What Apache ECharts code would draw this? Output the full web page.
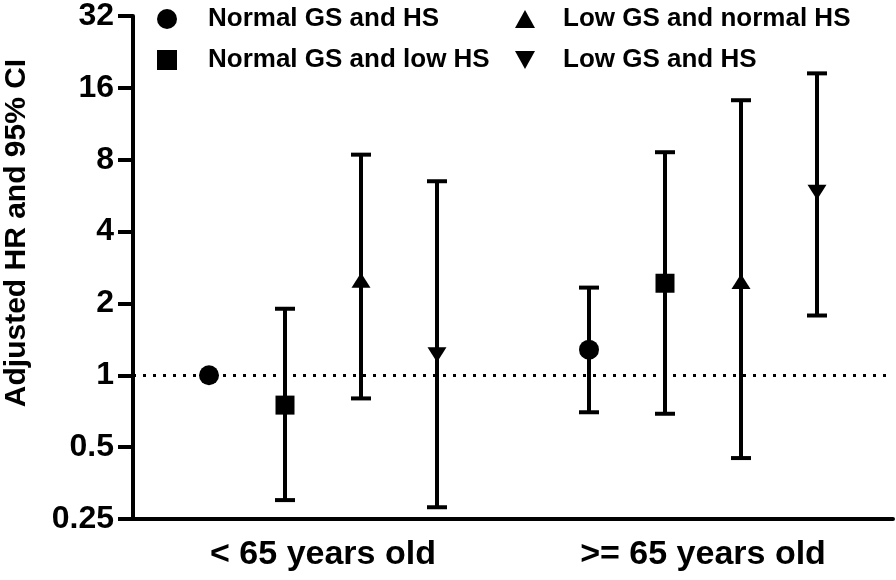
<!DOCTYPE html>
<html>
<head>
<meta charset="utf-8">
<script src="https://cdn.jsdelivr.net/npm/echarts@6/dist/echarts.min.js"></script>
<style>html,body{margin:0;padding:0;background:#fff}#c{width:896px;height:580px}</style>
</head>
<body>
<div id="c"></div>
<script>
// ---- data ----
const categories = ['< 65 years old', '>= 65 years old'];
const seriesNames = ['Normal GS and HS', 'Normal GS and low HS', 'Low GS and normal HS', 'Low GS and HS'];
const yTickLabels = ['0.25', '0.5', '1', '2', '4', '8', '16', '32'];
// hazard ratios per category
const hrNormalGSHS     = [1.00, 1.28];
const loNormalGSHS     = [null, 0.70];
const hiNormalGSHS     = [null, 2.33];
const hrNormalGSLowHS  = [0.75, 2.43];
const loNormalGSLowHS  = [0.30, 0.69];
const hiNormalGSLowHS  = [1.90, 8.60];
const hrLowGSNormalHS  = [2.50, 2.47];
const loLowGSNormalHS  = [0.80, 0.45];
const hiLowGSNormalHS  = [8.40, 14.2];
const hrLowGSHS        = [1.22, 5.84];
const loLowGSHS        = [0.28, 1.78];
const hiLowGSHS        = [6.50, 18.4];
const referenceHR = 1;

// ---- layout/style ----
const hrs = [hrNormalGSHS, hrNormalGSLowHS, hrLowGSNormalHS, hrLowGSHS];
const los = [loNormalGSHS, loNormalGSLowHS, loLowGSNormalHS, loLowGSHS];
const his = [hiNormalGSHS, hiNormalGSLowHS, hiLowGSNormalHS, hiLowGSHS];
const offsets = [-0.3, -0.1, 0.1, 0.3];
const triUp = 'path://M0,15 L9.5,0 L19,15 Z';
const triDown = 'path://M0,0 L19,0 L9.5,15 Z';
const symbols = ['circle', 'rect', triUp, triDown];
const symbolSizes = [20, 19, [19, 15], [19, 15]];
const legendIcons = ['circle', 'path://M0,0 L18,0 L18,18 L0,18 Z', 'path://M0,17 L9.5,0 L19,17 Z', 'path://M0,0 L19,0 L9.5,17 Z'];
const FONT = '"Liberation Sans", Arial, sans-serif';

const series = [];
seriesNames.forEach((name, s) => {
  const xs = categories.map((c, i) => i + 0.5 + offsets[s]);
  series.push({
    name: name + ' CI',
    type: 'custom',
    xAxisIndex: 1,
    z: 3,
    silent: true,
    data: xs.map((x, i) => [x, los[s][i], his[s][i]]).filter(d => d[1] != null),
    encode: {x: 0, y: [1, 2]},
    renderItem: function (params, api) {
      const x = api.value(0);
      const p1 = api.coord([x, api.value(1)]);
      const p2 = api.coord([x, api.value(2)]);
      const hw = 10;
      const st = {stroke: '#000', lineWidth: 4};
      return {
        type: 'group',
        children: [
          {type: 'line', shape: {x1: p1[0], y1: p1[1], x2: p2[0], y2: p2[1]}, style: st},
          {type: 'line', shape: {x1: p1[0] - hw, y1: p1[1], x2: p1[0] + hw, y2: p1[1]}, style: st},
          {type: 'line', shape: {x1: p2[0] - hw, y1: p2[1], x2: p2[0] + hw, y2: p2[1]}, style: st}
        ]
      };
    }
  });
  const sc = {
    name: name,
    type: 'scatter',
    xAxisIndex: 1,
    z: 4,
    symbol: symbols[s],
    symbolSize: symbolSizes[s],
    itemStyle: {color: '#000', opacity: 1},
    data: xs.map((x, i) => [x, hrs[s][i]])
  };
  if (s === 0) {
    sc.markLine = {
      silent: true,
      symbol: 'none',
      label: {show: false},
      z: 1,
      lineStyle: {color: '#000', type: [3, 7], width: 3},
      data: [{yAxis: referenceHR}]
    };
  }
  series.push(sc);
});

const legendBase = {fontFamily: FONT, fontWeight: 'bold', fontSize: 26, color: '#000'};
const chart = echarts.init(document.getElementById('c'));
chart.setOption({
  animation: false,
  backgroundColor: '#fff',
  grid: {left: 133, right: 3, top: 13, bottom: 61, containLabel: false},
  legend: [
    {
      left: 157, top: 6, orient: 'vertical', itemWidth: 20, itemHeight: 20, itemGap: 15,
      selectedMode: false, padding: 0,
      textStyle: Object.assign({padding: [0, 0, 0, 26]}, legendBase),
      data: [0, 1].map(s => ({name: seriesNames[s], icon: legendIcons[s]}))
    },
    {
      left: 515, top: 6, orient: 'vertical', itemWidth: 20, itemHeight: 20, itemGap: 15,
      selectedMode: false, padding: 0,
      textStyle: Object.assign({padding: [0, 0, 0, 23]}, legendBase),
      data: [2, 3].map(s => ({name: seriesNames[s], icon: legendIcons[s]}))
    }
  ],
  xAxis: [
    {
      type: 'category', data: categories, position: 'bottom',
      axisLine: {lineStyle: {color: '#000', width: 4}},
      axisTick: {alignWithLabel: true, length: 12, lineStyle: {color: '#000', width: 4}},
      axisLabel: {margin: 19, color: '#000', fontFamily: FONT, fontWeight: 'bold', fontSize: 34},
      splitLine: {show: false}
    },
    {type: 'value', min: 0, max: 2, show: false}
  ],
  yAxis: {
    type: 'log', logBase: 2, min: 0.25, max: 32,
    axisLine: {show: true, lineStyle: {color: '#000', width: 4}},
    axisTick: {show: true, length: 15, lineStyle: {color: '#000', width: 4}},
    axisLabel: {
      margin: 19, color: '#000', fontFamily: FONT, fontWeight: 'bold', fontSize: 32,
      formatter: function (v) {
        const k = Math.round(Math.log2(v)) + 2;
        return yTickLabels[k] !== undefined ? yTickLabels[k] : String(v);
      }
    },
    splitLine: {show: false}
  },
  graphic: [{
    type: 'text', x: 17, y: 233, rotation: Math.PI / 2,
    style: {text: 'Adjusted HR and 95% CI', fontFamily: FONT, fontWeight: 'bold', fontSize: 30,
      fill: '#000', align: 'center', verticalAlign: 'middle'}
  }],
  series: series
});
</script>
</body>
</html>
